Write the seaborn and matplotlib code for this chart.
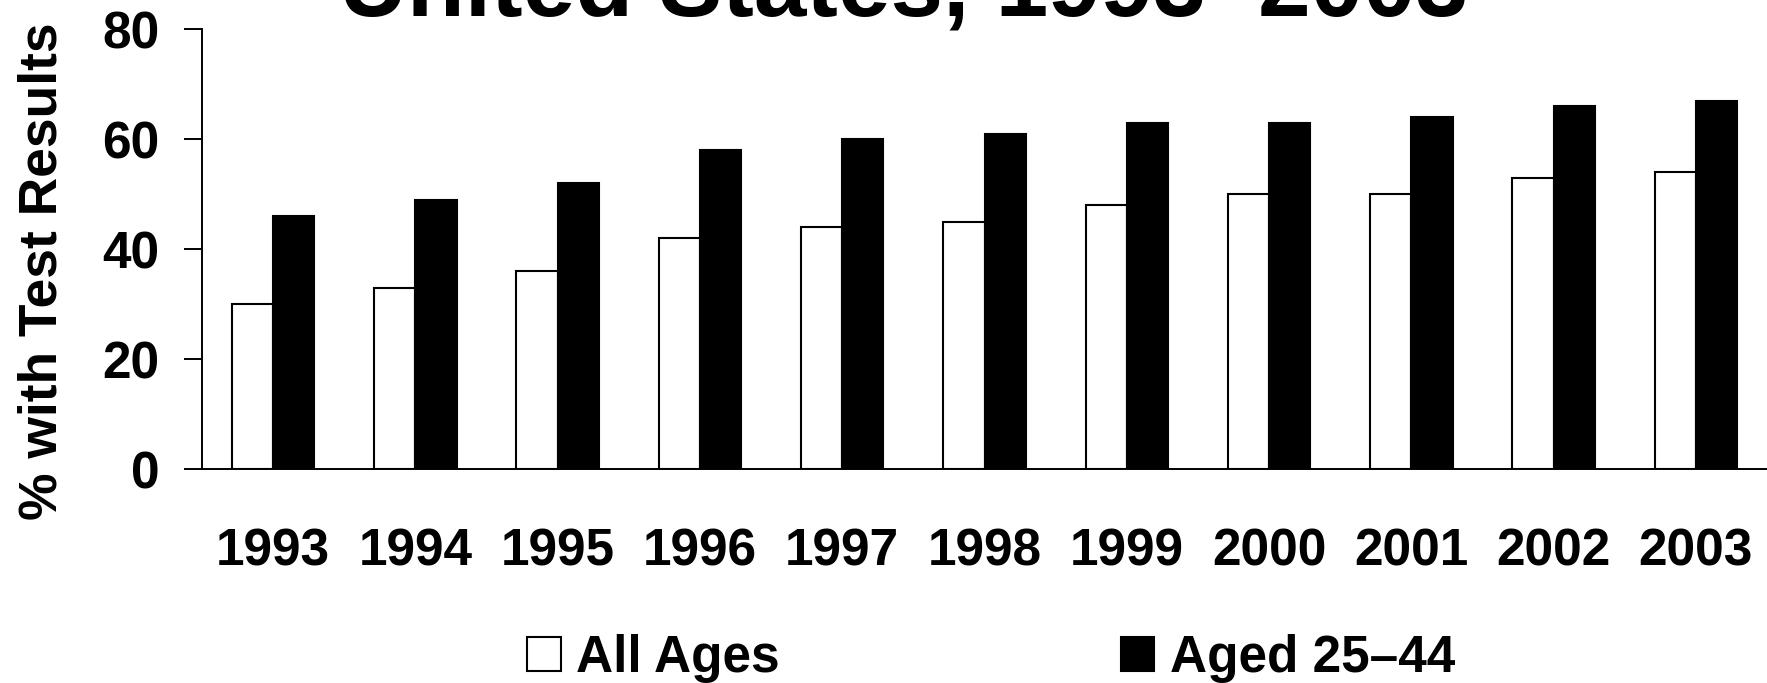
import matplotlib
matplotlib.use("Agg")
import matplotlib.pyplot as plt
import seaborn as sns
import pandas as pd

# Share of people with HIV test results, by year and age group
years = ["1993", "1994", "1995", "1996", "1997", "1998",
         "1999", "2000", "2001", "2002", "2003"]
all_ages = [30, 33, 36, 42, 44, 45, 48, 50, 50, 53, 54]
aged_25_44 = [46, 49, 52, 58, 60, 61, 63, 63, 64, 66, 67]
group_labels = ["All Ages", "Aged 25\u201344"]
y_ticks = [0, 20, 40, 60, 80]

df = pd.DataFrame({
    "Year": years * 2,
    "Percent": all_ages + aged_25_44,
    "Group": [group_labels[0]] * len(years) + [group_labels[1]] * len(years),
})

sns.set_theme(style="white")
plt.rcParams["font.family"] = ["Liberation Sans", "DejaVu Sans"]
plt.rcParams["font.weight"] = "bold"
plt.rcParams["text.color"] = "black"

W, H = 1767, 683
fig = plt.figure(figsize=(W / 100, H / 100), dpi=100)
ax = fig.add_axes([202 / W, (H - 469.3) / H, 1 - 202 / W, (469.3 - 29.3) / H])

sns.barplot(data=df, x="Year", y="Percent", hue="Group",
            palette=["white", "black"], edgecolor="black", linewidth=1.5,
            width=0.58, gap=0, errorbar=None, ax=ax)

ax.set_xlim(-0.5, 10.5)
ax.set_ylim(0, 80)
ax.set_yticks(y_ticks)
ax.set_xlabel("")
ax.set_ylabel("")

for side in ("top", "right"):
    ax.spines[side].set_visible(False)
for side in ("left", "bottom"):
    ax.spines[side].set_color("black")
    ax.spines[side].set_linewidth(1.4)

ax.tick_params(axis="y", which="major", left=True, direction="out",
               length=12.7, width=1.4, color="black", pad=18,
               labelsize=37, labelcolor="black")
ax.tick_params(axis="x", which="major", bottom=False, length=0, pad=42,
               labelsize=37, labelcolor="black")
for lbl in ax.get_xticklabels() + ax.get_yticklabels():
    lbl.set_fontweight("bold")

fig.text(43 / W, 1 - 271.5 / H, "% with Test Results", rotation=90,
         ha="center", va="center", fontsize=38.4, fontweight="bold",
         color="black")

fig.text(903.5 / W, 1 - 15 / H, "United States, 1993\u20132003",
         ha="center", va="baseline", fontsize=68, fontweight="bold",
         color="black")

handles, labels = ax.get_legend_handles_labels()
ax.get_legend().remove()
leg = fig.legend(handles, labels, ncol=2, loc="lower center",
                 bbox_to_anchor=(991 / W, 0.0), frameon=False,
                 prop={"family": "Liberation Sans", "weight": "bold", "size": 37},
                 handlelength=0.65, handleheight=0.65, handletextpad=0.3,
                 columnspacing=6.64, borderpad=0, borderaxespad=0)
for t in leg.get_texts():
    t.set_color("black")

fig.savefig("out.png", dpi=100, facecolor="white")
